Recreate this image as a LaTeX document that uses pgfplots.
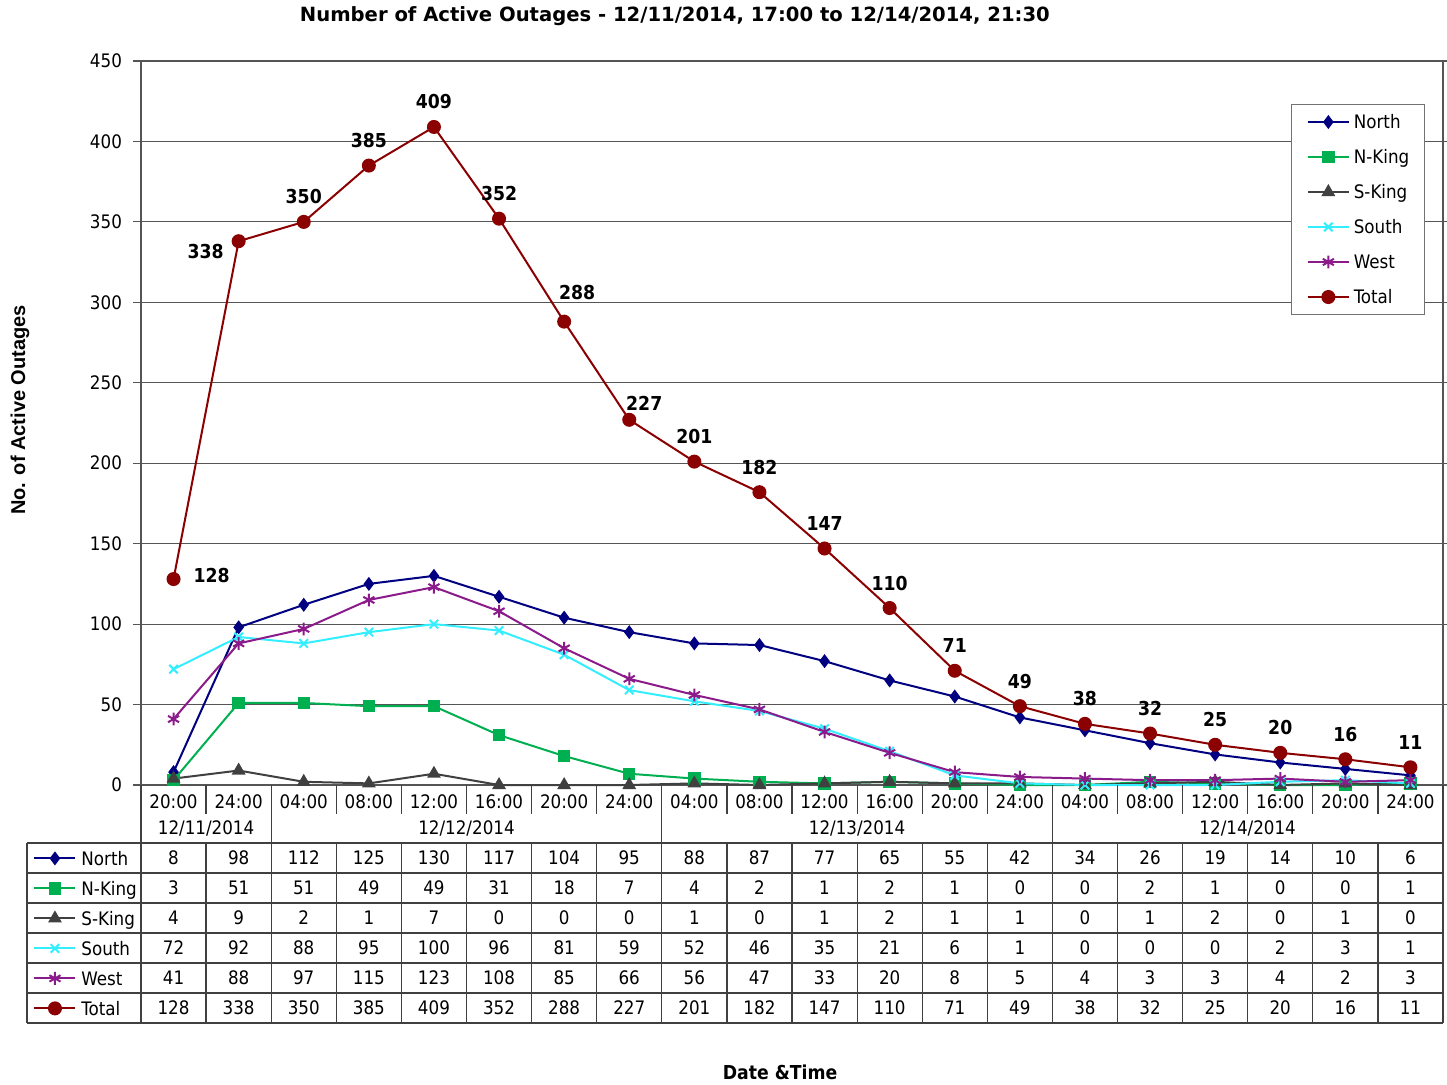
\documentclass[border=0pt]{standalone}
\usepackage{pgfplots}
\pgfplotsset{compat=1.18}
\usepackage{pgfplotstable}
\usepackage{fontspec}
\setmainfont{DejaVu Sans Condensed}
\newfontfamily\arialfont{Liberation Sans}
\newfontfamily\dejavu{DejaVu Sans}

\definecolor{cNorth}{HTML}{000080}
\definecolor{cNKing}{HTML}{00B050}
\definecolor{cSKing}{HTML}{404040}
\definecolor{cSouth}{HTML}{33EEFF}
\definecolor{cWest}{HTML}{8B1A8B}
\definecolor{cTotal}{HTML}{8B0000}
\definecolor{cGrid}{HTML}{555555}

\pgfplotstableread{
idx North NKing SKing South West Total
0   8    3  4  72  41  128
1   98   51 9  92  88  338
2   112  51 2  88  97  350
3   125  49 1  95  115 385
4   130  49 7  100 123 409
5   117  31 0  96  108 352
6   104  18 0  81  85  288
7   95   7  0  59  66  227
8   88   4  1  52  56  201
9   87   2  0  46  47  182
10  77   1  1  35  33  147
11  65   2  2  21  20  110
12  55   1  1  6   8   71
13  42   0  1  1   5   49
14  34   0  0  0   4   38
15  26   2  1  0   3   32
16  19   1  2  0   3   25
17  14   0  0  2   4   20
18  10   0  1  3   2   16
19  6    1  0  1   3   11
}\data

\newcommand\tfont{\fontsize{9.3}{11}\selectfont}
\newcommand\bfont{\fontsize{9.6}{11}\selectfont\bfseries}

\tikzset{tabline/.style={draw=black!75, line width=0.6pt}}
\pgfplotsset{
  /pgf/number format/assume math mode=true,
  sNorth/.style={color=cNorth, line width=1pt, mark=diamond*, mark size=2.7pt, mark options={solid, fill=cNorth}},
  sNKing/.style={color=cNKing, line width=1pt, mark=square*, mark size=2.6pt, mark options={solid, fill=cNKing}},
  sSKing/.style={color=cSKing, line width=1pt, mark=triangle*, mark size=3pt, mark options={solid, fill=cSKing}},
  sSouth/.style={color=cSouth, line width=1pt, mark=x, mark size=3pt, mark options={solid}},
  sWest/.style={color=cWest, line width=1pt, mark=asterisk, mark size=3.2pt, mark options={solid}},
  sTotal/.style={color=cTotal, line width=1pt, mark=*, mark size=3pt, mark options={solid, fill=cTotal}},
  myleg/.style={legend image code/.code={\draw[mark repeat=2,mark phase=2,##1] plot coordinates {(0pt,0pt) (10.25pt,0pt) (20.5pt,0pt)};}},
  tabrow/.style={draw=none, mark=none, forget plot, point meta=\thisrow{#1},
    nodes near coords, nodes near coords align={anchor=center},
    every node near coord/.append style={font=\tfont, text=black, anchor=center}},
  totlab/.style 2 args={draw=none, mark=none, forget plot, point meta=y,
    nodes near coords, nodes near coords align={anchor=center},
    every node near coord/.append style={font=\bfont, text=black, anchor=center, xshift=#1, yshift=#2}},
}

\begin{document}
\begin{tikzpicture}
\path[use as bounding box] (-70.5pt,-149.5pt) rectangle (653pt,392.5pt);
\begin{axis}[
  scale only axis, width=651pt, height=362pt,
  xmin=-0.5, xmax=19.5, ymin=0, ymax=450,
  ytick={0,50,...,450},
  xtick={0,...,19},
  xticklabels={20:00,24:00,04:00,08:00,12:00,16:00,20:00,24:00,04:00,08:00,12:00,16:00,20:00,24:00,04:00,08:00,12:00,16:00,20:00,24:00},
  x tick style={draw=none},
  y tick style={cGrid, line width=0.6pt},
  tick align=outside, major tick length=4pt,
  ymajorgrids, grid style={cGrid, line width=0.6pt},
  axis line style={cGrid, line width=0.7pt},
  clip=false,
  xticklabel style={font=\tfont, anchor=center, yshift=-4.5pt},
  yticklabel style={font=\tfont, anchor=east, xshift=-2pt},
  title={Number of Active Outages - 12/11/2014, 17:00 to 12/14/2014, 21:30},
  title style={at={(axis description cs:0.410,1.0456)}, anchor=center, font={\dejavu\fontsize{9.8}{12}\selectfont\bfseries}},
  ylabel={No. of Active Outages},
  ylabel style={at={(axis description cs:-0.0929,0.518)}, anchor=center, font={\arialfont\fontsize{10}{12}\selectfont\bfseries}},
  xlabel={Date \&Time},
  xlabel style={at={(axis description cs:0.4908,-0.3964)}, anchor=center, font=\bfont},
  myleg,
  legend style={at={(0.986,0.9406)}, anchor=north east, draw=black!55, line width=0.5pt, fill=white,
    inner xsep=7.5pt, inner ysep=0pt, row sep=0pt, font=\tfont,
    nodes={inner sep=0pt, anchor=west, text height=12.15pt, text depth=5.35pt},
    /tikz/every odd column/.append style={column sep=2pt}},
]
\addplot[sNorth] table[x=idx, y=North] {\data};
\addlegendentry{North}
\addplot[sNKing] table[x=idx, y=NKing] {\data};
\addlegendentry{N-King}
\addplot[sSKing] table[x=idx, y=SKing] {\data};
\addlegendentry{S-King}
\addplot[sSouth] table[x=idx, y=South] {\data};
\addlegendentry{South}
\addplot[sWest] table[x=idx, y=West] {\data};
\addlegendentry{West}
\addplot[sTotal] table[x=idx, y=Total] {\data};
\addlegendentry{Total}

% data labels on Total
\addplot[totlab={0pt}{12.5pt}, skip coords between index={0}{2}, skip coords between index={6}{8}] table[x=idx, y=Total] {\data};
\addplot[totlab={19pt}{2pt}, skip coords between index={1}{20}] table[x=idx, y=Total] {\data};
\addplot[totlab={-16.5pt}{-5pt}, skip coords between index={0}{1}, skip coords between index={2}{20}] table[x=idx, y=Total] {\data};
\addplot[totlab={6.5pt}{14.5pt}, skip coords between index={0}{6}, skip coords between index={7}{20}] table[x=idx, y=Total] {\data};
\addplot[totlab={7.5pt}{8pt}, skip coords between index={0}{7}, skip coords between index={8}{20}] table[x=idx, y=Total] {\data};

% data table rows
\addplot[tabrow=North] table[x=idx, y expr=-45.37] {\data};
\addplot[tabrow=NKing] table[x=idx, y expr=-64.02] {\data};
\addplot[tabrow=SKing] table[x=idx, y expr=-82.66] {\data};
\addplot[tabrow=South] table[x=idx, y expr=-101.31] {\data};
\addplot[tabrow=West] table[x=idx, y expr=-119.96] {\data};
\addplot[tabrow=Total] table[x=idx, y expr=-138.60] {\data};

% table grid
\pgfplotsinvokeforeach{-0.5,0.5,...,19.5}{
  \draw[tabline] (axis cs:#1,0) -- (axis cs:#1,-18.02);
  \draw[tabline] (axis cs:#1,-36.05) -- (axis cs:#1,-147.93);
}
\pgfplotsinvokeforeach{-0.5,1.5,7.5,13.5,19.5}{
  \draw[tabline] (axis cs:#1,0) -- (axis cs:#1,-36.05);
}
\draw[tabline] (axis cs:-2.251,-36.05) -- (axis cs:-2.251,-147.93);
\pgfplotsinvokeforeach{36.05,54.70,73.34,91.99,110.63,129.28,147.93}{
  \draw[tabline] (axis cs:-2.251,-#1) -- (axis cs:19.5,-#1);
}
\node[font=\tfont] at (axis cs:0.5,-26.73) {12/11/2014};
\node[font=\tfont] at (axis cs:4.5,-26.73) {12/12/2014};
\node[font=\tfont] at (axis cs:10.5,-26.73) {12/13/2014};
\node[font=\tfont] at (axis cs:16.5,-26.73) {12/14/2014};
\end{axis}

\begin{axis}[
  scale only axis, width=651pt, height=362pt, hide axis,
  xmin=0, xmax=1, ymin=0, ymax=1,
  myleg,
  legend style={at={(-0.0829,-0.0801)}, anchor=north west, draw=none, fill=none,
    inner sep=0pt, row sep=0pt, font=\tfont,
    nodes={inner sep=0pt, anchor=west, text height=10.9pt, text depth=4.1pt},
    /tikz/every odd column/.append style={column sep=2.5pt}},
]
\addlegendimage{sNorth}\addlegendentry{North}
\addlegendimage{sNKing}\addlegendentry{N-King}
\addlegendimage{sSKing}\addlegendentry{S-King}
\addlegendimage{sSouth}\addlegendentry{South}
\addlegendimage{sWest}\addlegendentry{West}
\addlegendimage{sTotal}\addlegendentry{Total}
\end{axis}
\end{tikzpicture}
\end{document}
